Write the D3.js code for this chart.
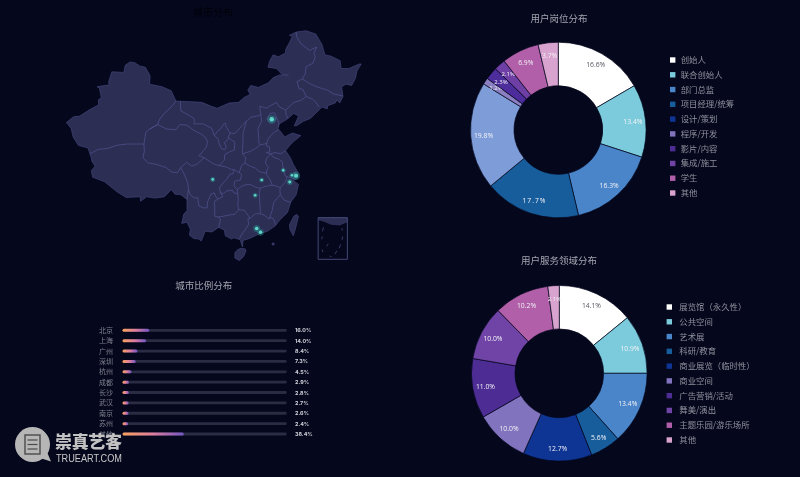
<!DOCTYPE html>
<html>
<head>
<meta charset="utf-8">
<script src="https://cdn.jsdelivr.net/npm/d3@7"></script>
<style>
html, body { margin: 0; padding: 0; background: #05071c; }
svg { display: block; font-family: "Noto Sans CJK SC", "Noto Sans", sans-serif; filter: blur(0.45px); }
</style>
</head>
<body>
<svg id="chart" width="800" height="477"></svg>
<script>
// pies
var roleNames = ["创始人", "联合创始人", "部门总监", "项目经理/统筹", "设计/策划", "程序/开发", "影片/内容", "集成/施工", "学生", "其他"];
var roleValues = [16.6, 13.4, 16.3, 17.7, 19.8, 1.2, 2.3, 2.1, 6.9, 3.7];
var fieldNames = ["展览馆（永久性）", "公共空间", "艺术展", "科研/教育", "商业展览（临时性）", "商业空间", "广告营销/活动", "舞美/演出", "主题乐园/游乐场所", "其他"];
var fieldValues = [14.1, 10.9, 13.4, 5.6, 12.7, 10.0, 11.0, 10.0, 10.2, 2.1];
var legendColors = ["#ffffff", "#7ccbdc", "#4a85c9", "#175d9c", "#0e3594", "#8173bd", "#4d2c94", "#7044a6", "#b05fa8", "#d9a3cf"];
var roleColors = ["#ffffff", "#7ccbdc", "#4a85c9", "#175d9c", "#7e9dd8", "#8a7fc0", "#4d2c9c", "#6e3fa5", "#b05fa8", "#d9a3cf"];

// city bars
var cityNames = ["北京", "上海", "广州", "深圳", "杭州", "成都", "长沙", "武汉", "南京", "苏州", "其他"];
var cityShare = [16.0, 14.0, 8.4, 7.3, 4.5, 2.9, 2.8, 2.7, 2.6, 2.4, 38.4];

// map points, lon/lat
var cityCoords = [[116.4, 39.9], [121.47, 31.23], [113.26, 23.13], [114.06, 22.55], [120.16, 30.27], [104.07, 30.67], [112.94, 28.23], [114.3, 30.59], [118.8, 32.06], [120.6, 31.3]];

var chinaOutline = [[73.5,39.4],[75.0,40.3],[76.3,40.4],[78.4,41.4],[80.2,42.1],[80.2,42.9],[80.8,43.2],[80.4,44.7],[79.9,44.9],[82.5,45.2],[82.3,45.6],[83.0,47.2],[85.5,47.1],[85.8,48.2],[86.8,48.7],[87.8,48.6],[88.8,48.1],[90.0,47.9],[91.0,46.6],[90.9,45.3],[93.5,44.9],[95.4,44.3],[96.4,42.7],[99.5,42.6],[101.8,42.5],[103.8,41.9],[105.0,41.6],[107.5,42.4],[109.5,42.5],[110.7,43.3],[111.9,43.7],[111.4,44.4],[112.0,45.1],[113.6,44.8],[115.7,45.5],[116.7,46.3],[118.0,46.7],[119.9,46.7],[118.5,46.8],[117.4,47.7],[115.6,47.9],[116.0,48.9],[116.7,49.8],[117.8,49.5],[119.3,50.1],[119.3,50.6],[120.1,51.7],[120.7,52.6],[120.1,52.8],[121.5,53.3],[123.6,53.5],[125.6,53.0],[126.9,51.4],[127.5,49.8],[128.8,49.6],[130.7,48.9],[130.9,47.7],[132.5,47.7],[134.7,48.4],[135.1,48.4],[134.2,47.3],[133.9,46.2],[133.1,45.1],[131.9,45.3],[131.0,44.9],[131.3,43.4],[130.6,42.4],[130.0,42.9],[129.7,42.4],[128.1,42.0],[128.0,41.5],[126.9,41.8],[125.3,40.6],[124.4,40.0],[123.0,39.6],[121.6,38.9],[121.1,38.9],[122.0,40.4],[121.0,40.8],[119.6,39.9],[118.0,39.2],[117.6,38.6],[118.9,37.4],[119.1,37.2],[120.7,37.8],[122.5,37.4],[121.0,36.5],[120.3,36.0],[119.3,35.1],[120.3,34.0],[120.9,33.0],[121.9,31.7],[121.9,30.9],[120.9,30.5],[122.0,29.9],[121.5,28.3],[120.4,27.2],[119.7,25.6],[118.2,24.5],[117.1,23.5],[115.5,22.7],[114.2,22.4],[113.5,22.2],[111.8,21.6],[110.4,21.3],[110.3,20.3],[109.8,21.4],[108.5,21.7],[108.0,21.5],[106.7,22.0],[106.5,22.9],[105.3,23.3],[103.9,22.6],[102.5,22.7],[101.7,21.2],[101.2,21.5],[100.1,21.6],[99.2,22.1],[99.4,23.0],[98.7,24.1],[97.6,23.9],[98.0,25.3],[98.7,25.9],[98.7,27.6],[97.4,28.3],[96.2,28.4],[95.4,29.1],[94.0,28.0],[92.0,27.8],[90.3,28.0],[89.0,27.3],[88.9,28.0],[86.0,27.9],[84.0,28.8],[81.5,30.3],[79.0,31.0],[78.7,32.0],[79.5,32.7],[78.8,33.5],[78.7,34.0],[78.0,35.5],[76.0,35.9],[74.9,37.2],[74.5,38.5]];
var taiwanOutline = [[121.6,25.3],[122.0,25.0],[121.4,23.2],[120.9,22.0],[120.2,23.0],[120.1,23.7],[121.0,25.0]];
var hainanOutline = [[110.0,20.1],[110.9,20.0],[111.0,19.6],[110.5,18.8],[109.6,18.2],[108.7,18.6],[108.7,19.4],[109.3,19.9]];

var provinceLines = [
    [[78.4,34.6],[80.2,35.3],[82.0,35.4],[84.0,35.9],[86.1,36.1],[89.7,36.1]],
    [[96.4,42.7],[95.4,41.8],[93.8,40.7],[92.9,39.8],[92.6,39.1],[90.9,38.4],[90.1,37.9],[89.7,36.1]],
    [[90.9,38.4],[92.5,39.1],[94.5,38.4],[96.4,38.3],[97.2,39.1],[98.7,39.0],[100.1,38.2],[101.5,37.7],[102.6,37.1],[103.0,36.4],[102.7,35.6],[102.3,35.2],[101.2,34.3],[102.3,34.0]],
    [[102.3,34.0],[100.8,33.0],[99.7,32.7],[98.6,33.3],[97.4,32.5]],
    [[97.4,32.5],[96.7,31.7],[95.5,31.8],[94.3,32.5],[92.2,33.0],[90.6,33.2],[89.5,34.0],[89.8,35.0],[89.7,36.1]],
    [[97.4,32.5],[98.3,31.2],[98.9,30.0],[99.0,29.1],[98.8,28.2],[98.7,27.6]],
    [[99.0,29.1],[99.5,28.2],[100.3,27.8],[100.9,27.9],[101.2,26.6],[102.1,26.3],[102.9,26.3],[103.0,27.2],[103.7,28.4],[104.4,28.6],[104.8,27.9],[105.3,27.7]],
    [[105.3,27.7],[104.4,27.3],[104.5,26.3],[104.5,25.0],[105.2,24.9],[105.7,24.5],[105.3,23.3]],
    [[105.2,24.9],[106.2,25.0],[107.5,25.2],[108.6,25.3],[109.5,26.0],[109.3,26.7],[109.4,27.5],[109.3,28.5],[108.5,28.6],[108.2,29.0],[107.0,28.9],[106.3,28.5],[105.7,28.6],[106.2,28.0],[105.3,27.7]],
    [[105.7,28.6],[105.5,29.4],[106.3,30.2],[106.9,30.6],[107.7,31.5],[108.3,31.5],[108.5,32.2],[109.6,31.7],[110.1,31.4],[109.9,30.6],[108.7,30.4],[108.5,29.7],[109.2,29.1],[109.3,28.5]],
    [[102.3,34.0],[103.1,33.6],[104.4,33.0],[105.4,32.8],[106.8,32.6],[108.0,32.2],[108.5,32.2]],
    [[97.3,42.7],[97.4,41.2],[98.9,40.6],[100.2,40.0],[100.2,39.2],[102.1,39.2],[103.9,38.5],[104.4,37.4]],
    [[104.4,37.4],[105.2,36.9],[105.4,36.2],[105.9,35.4],[106.6,35.2],[106.9,35.7],[106.5,36.3],[107.3,36.8],[107.3,37.1],[107.7,37.8],[106.8,38.8],[106.8,39.3],[106.4,39.2],[105.8,38.5],[105.0,38.0],[104.4,37.4]],
    [[107.7,37.8],[108.7,37.7],[110.4,39.1],[111.1,39.6]],
    [[107.3,37.1],[108.7,36.4],[108.6,35.2],[107.6,34.9],[106.6,34.5],[106.5,33.6],[105.4,32.8]],
    [[111.1,39.6],[110.4,37.7],[110.4,36.5],[110.3,35.3],[110.3,34.6],[111.0,34.0],[110.8,33.2],[110.1,32.8],[109.6,31.7]],
    [[111.1,39.6],[112.0,40.2],[113.9,40.5],[114.1,40.7],[114.3,39.6],[113.5,38.4],[113.7,37.0],[113.7,36.3],[114.0,36.0],[113.0,35.4],[112.0,35.0],[110.3,34.6]],
    [[114.1,40.7],[113.9,41.9],[115.4,41.6],[116.1,42.0],[117.4,42.5],[118.0,41.8],[119.3,41.3],[119.4,40.6],[119.8,40.0]],
    [[119.3,41.3],[121.0,42.5],[122.5,42.8],[123.6,43.4],[122.9,44.5],[122.1,44.6],[121.7,45.7],[122.8,46.1],[123.4,46.9],[123.6,48.0],[125.0,48.5],[125.5,49.5],[125.2,50.0],[125.8,51.0],[124.3,50.5],[122.5,51.5],[121.6,52.6],[121.5,53.3]],
    [[123.6,43.4],[124.9,43.0],[125.6,42.5],[126.3,41.8]],
    [[122.8,46.1],[124.3,45.4],[125.8,44.9],[127.0,44.6],[128.0,44.4],[129.3,43.8],[131.2,43.5]],
    [[115.4,39.9],[116.0,40.8],[117.0,40.9],[117.4,40.2],[116.7,39.5],[115.9,39.5],[115.4,39.9]],
    [[117.4,40.2],[117.9,39.3],[117.8,38.6]],
    [[117.8,38.3],[116.9,37.9],[116.2,37.4],[115.5,36.7],[115.4,36.2],[114.9,36.1],[114.0,36.0]],
    [[115.4,36.2],[115.3,35.8],[115.9,35.7],[116.0,34.9],[115.3,34.8],[116.2,34.6],[117.0,34.8],[118.3,34.6],[119.3,35.1]],
    [[116.2,34.6],[115.3,33.9],[115.1,33.1],[115.7,32.5],[115.3,31.9],[115.0,31.6],[114.2,31.8],[113.7,31.9],[113.0,32.4],[111.9,32.7],[110.8,33.2]],
    [[116.2,34.6],[116.7,34.1],[117.8,33.8],[118.6,33.4],[118.7,32.8],[118.9,32.0],[119.2,31.2],[119.6,31.1],[120.5,30.9],[121.1,30.8]],
    [[120.9,31.3],[121.2,31.5],[121.3,31.8]],
    [[119.6,31.1],[119.3,30.3],[118.2,29.4],[117.1,29.7],[116.5,29.8],[116.0,30.7],[115.3,31.4],[115.3,31.9]],
    [[116.5,29.8],[115.0,29.6],[114.0,29.3],[113.0,29.5],[111.9,29.9],[110.6,29.8],[109.7,29.4],[109.2,29.1]],
    [[114.0,29.3],[113.8,28.5],[113.9,27.2],[114.0,26.0],[114.0,25.4],[114.8,25.2],[115.6,24.7],[115.9,24.6],[116.0,24.9],[116.5,25.9],[116.8,27.1],[117.7,27.9],[118.2,28.3],[119.0,27.5],[120.0,27.2],[120.4,27.2]],
    [[118.2,28.3],[118.1,29.0],[118.2,29.4]],
    [[116.0,24.9],[116.8,24.6],[117.2,23.7]],
    [[114.0,25.4],[113.0,25.4],[112.3,25.0],[111.9,24.7],[111.4,24.6],[111.6,23.8],[110.7,22.8],[110.0,22.1],[109.7,21.6]],
    [[111.9,24.7],[111.4,25.2],[110.7,25.9],[109.9,26.0],[109.5,26.0]]
];

// south china sea inset, in the same lon/lat frame
var insetBox = [[126.1,24.8],[132.2,24.8],[132.2,18.4],[126.1,18.4],[126.1,24.8]];
var insetCoast = [[126.1,24.8],[132.2,24.8],[132.2,24.1],[130.6,23.6],[128.8,23.7],[127.2,24.2],[126.1,24.4]];
var insetDashes = [[[127.2,23.3],[127.0,22.7]], [[131.1,23.2],[131.1,22.8]], [[127.0,21.9],[126.8,21.5]], [[131.2,21.9],[131.1,21.4]], [[128.2,20.8],[127.9,20.4]], [[130.8,20.7],[130.5,20.1]], [[126.9,19.9],[127.1,19.5]], [[130.0,19.7],[129.6,19.2]], [[128.5,18.9],[128.9,18.8]]];
var dongshaIslet = [[116.5,20.9],[116.9,20.9],[116.9,20.6],[116.5,20.6]];

var bg = "#05071c";
var svg = d3.select("#chart");
svg.append("rect").attr("width", 800).attr("height", 477).attr("fill", bg);

var defs = svg.append("defs");
var barGrad = defs.append("linearGradient").attr("id", "barGrad");
barGrad.append("stop").attr("offset", "0%").attr("stop-color", "#f7a05c");
barGrad.append("stop").attr("offset", "50%").attr("stop-color", "#de7d9e");
barGrad.append("stop").attr("offset", "100%").attr("stop-color", "#7355c4");

// map, echarts style stretched lat
var mapX = d3.scaleLinear().domain([104.07, 121.47]).range([212.7, 296]);
var mapY = d3.scaleLinear().domain([39.9, 23.1]).range([119.3, 228.7]);
var mapTransform = d3.geoTransform({
    point: function (x, y) { this.stream.point(mapX(x), mapY(y)); }
});
var geoPath = d3.geoPath(mapTransform);

var mapG = svg.append("g");
[chinaOutline, taiwanOutline, hainanOutline, dongshaIslet].forEach(function (ring) {
    mapG.append("path")
        .attr("d", geoPath({ type: "Polygon", coordinates: [ring.concat([ring[0]])] }))
        .attr("fill", "#2c2e54")
        .attr("stroke", "#464a80")
        .attr("stroke-width", 0.6);
});
mapG.append("path")
    .attr("d", geoPath({ type: "MultiLineString", coordinates: provinceLines }))
    .attr("fill", "none")
    .attr("stroke", "#50548f")
    .attr("stroke-width", 0.7);

mapG.append("path")
    .attr("d", geoPath({ type: "Polygon", coordinates: [insetCoast.concat([insetCoast[0]])] }))
    .attr("fill", "#2c2e54");
mapG.append("path")
    .attr("d", geoPath({ type: "LineString", coordinates: insetBox }))
    .attr("fill", "none")
    .attr("stroke", "#444879")
    .attr("stroke-width", 1);
mapG.append("path")
    .attr("d", geoPath({ type: "MultiLineString", coordinates: insetDashes }))
    .attr("fill", "none")
    .attr("stroke", "#444879")
    .attr("stroke-width", 0.8);

var dotR = d3.scaleSqrt().domain([0, 16]).range([0.6, 2.2]);
cityCoords.forEach(function (c, i) {
    var p = cityShare[i];
    mapG.append("circle")
        .attr("cx", mapX(c[0])).attr("cy", mapY(c[1]))
        .attr("r", dotR(p) * 2)
        .attr("fill", "#2a9a98").attr("fill-opacity", .4);
    mapG.append("circle")
        .attr("cx", mapX(c[0])).attr("cy", mapY(c[1]))
        .attr("r", dotR(p))
        .attr("fill", "#5fd8c8");
});

svg.append("text").attr("x", 213).attr("y", 16).attr("text-anchor", "middle")
    .attr("font-size", 10).attr("fill", "#010208").text("城市分布");

function title(txt, x, y) {
    svg.append("text").attr("x", x).attr("y", y).attr("text-anchor", "middle")
        .attr("font-size", 9.5).attr("fill", "#a3a6b0").text(txt);
}
title("城市比例分布", 203.7, 288.5);
title("用户岗位分布", 559, 21.5);
title("用户服务领域分布", 559, 263.5);

// city bars, the track is longer than 100%
var barX = d3.scaleLinear().domain([0, 100]).range([123.5, 278]);
var barY = d3.scalePoint().domain(cityNames).range([330.3, 434]);
var rows = svg.selectAll("g.row").data(cityNames).enter().append("g").attr("class", "row")
    .attr("transform", function (d) { return "translate(0," + barY(d) + ")"; });
rows.append("rect")
    .attr("x", 122.7).attr("y", -1.4)
    .attr("width", 164).attr("height", 2.8)
    .attr("rx", 1.4).attr("fill", "#2a2c44");
rows.append("rect")
    .attr("x", barX(0) - 1).attr("y", -1.5)
    .attr("width", function (d, i) { return barX(cityShare[i]) - barX(0) + 2; })
    .attr("height", 3).attr("rx", 1.5)
    .attr("fill", "url(#barGrad)");
rows.append("text")
    .attr("x", 106).attr("y", 2.6).attr("text-anchor", "middle")
    .attr("font-size", 7).attr("fill", "#7f818e")
    .text(function (d) { return d; });
rows.append("text")
    .attr("x", 295).attr("y", 2)
    .attr("font-size", 5.4).attr("font-weight", 700).attr("fill", "#cfd0d8")
    .attr("font-family", "Inter, sans-serif")
    .text(function (d, i) { return cityShare[i].toFixed(1) + "%"; });

// donut + legend
function donut(names, values, colors, cx, cy, lx, ly, tx) {
    var pie = d3.pie().sort(null);
    var arc = d3.arc().innerRadius(44.3).outerRadius(87.8);
    var labelArc = d3.arc().innerRadius(75).outerRadius(75);
    var g = svg.append("g").attr("transform", "translate(" + cx + "," + cy + ")");
    var slices = g.selectAll("g").data(pie(values)).enter().append("g");
    slices.append("path")
        .attr("d", arc)
        .attr("fill", function (d, i) { return colors[i]; })
        .attr("stroke", bg).attr("stroke-width", .7);
    slices.append("text")
        .attr("transform", function (d) { return "translate(" + labelArc.centroid(d) + ")"; })
        .attr("text-anchor", "middle").attr("dy", "0.35em")
        .attr("font-size", function (d) { return d.value < 3 ? 6 : 6.8; })
        .attr("font-family", "'Open Sans', sans-serif")
        .attr("letter-spacing", function (d) { return d.value == 17.7 ? 1 : 0; })
        .attr("fill", function (d, i) { return i == 0 ? "#555560" : "#f2f2f6"; })
        .text(function (d) { return d.value.toFixed(1) + "%"; });

    var legendY = d3.scalePoint().domain(names).range([ly, ly + 133]);
    var items = svg.selectAll(null).data(names).enter().append("g")
        .attr("transform", function (d) { return "translate(0," + legendY(d) + ")"; });
    items.append("rect")
        .attr("x", lx - 2.7).attr("y", -2.7).attr("width", 5.4).attr("height", 5.4)
        .attr("fill", function (d, i) { return legendColors[i]; });
    items.append("text")
        .attr("x", tx).attr("y", 3)
        .attr("font-size", 8.4).attr("fill", "#8f919d")
        .text(function (d) { return d; });
}
donut(roleNames, roleValues, roleColors, 558.3, 130, 672.7, 60, 680.7);
donut(fieldNames, fieldValues, legendColors, 559.3, 373.3, 669.3, 307, 679.3);

// watermark
var mark = svg.append("g");
mark.append("path")
    .attr("d", d3.line()([[40, 458], [51, 461.5], [47, 452]]))
    .attr("fill", "#b6b6b6");
mark.append("circle").attr("cx", 32.5).attr("cy", 444.5).attr("r", 17.5).attr("fill", "#b6b6b6");
mark.append("rect").attr("x", 25).attr("y", 435).attr("width", 15).attr("height", 19)
    .attr("fill", "none").attr("stroke", "#4a4a4a").attr("stroke-width", 1.4);
[440, 444.5, 449].forEach(function (y) {
    mark.append("line").attr("x1", 27.5).attr("x2", 37.5).attr("y1", y).attr("y2", y)
        .attr("stroke", "#4a4a4a").attr("stroke-width", 1.2);
});
mark.append("text").attr("x", 55).attr("y", 447.5)
    .attr("font-size", 17).attr("font-weight", 900).attr("fill", "#c2c2c2")
    .attr("font-family", "'Noto Sans CJK SC'").attr("textLength", 67)
    .text("崇真艺客");
mark.append("text").attr("x", 56).attr("y", 462)
    .attr("font-size", 11.5).attr("fill", "#c8c8c8")
    .attr("font-family", "'Liberation Sans'").attr("textLength", 66).attr("lengthAdjust", "spacingAndGlyphs")
    .text("TRUEART.COM");
</script>
</body>
</html>
